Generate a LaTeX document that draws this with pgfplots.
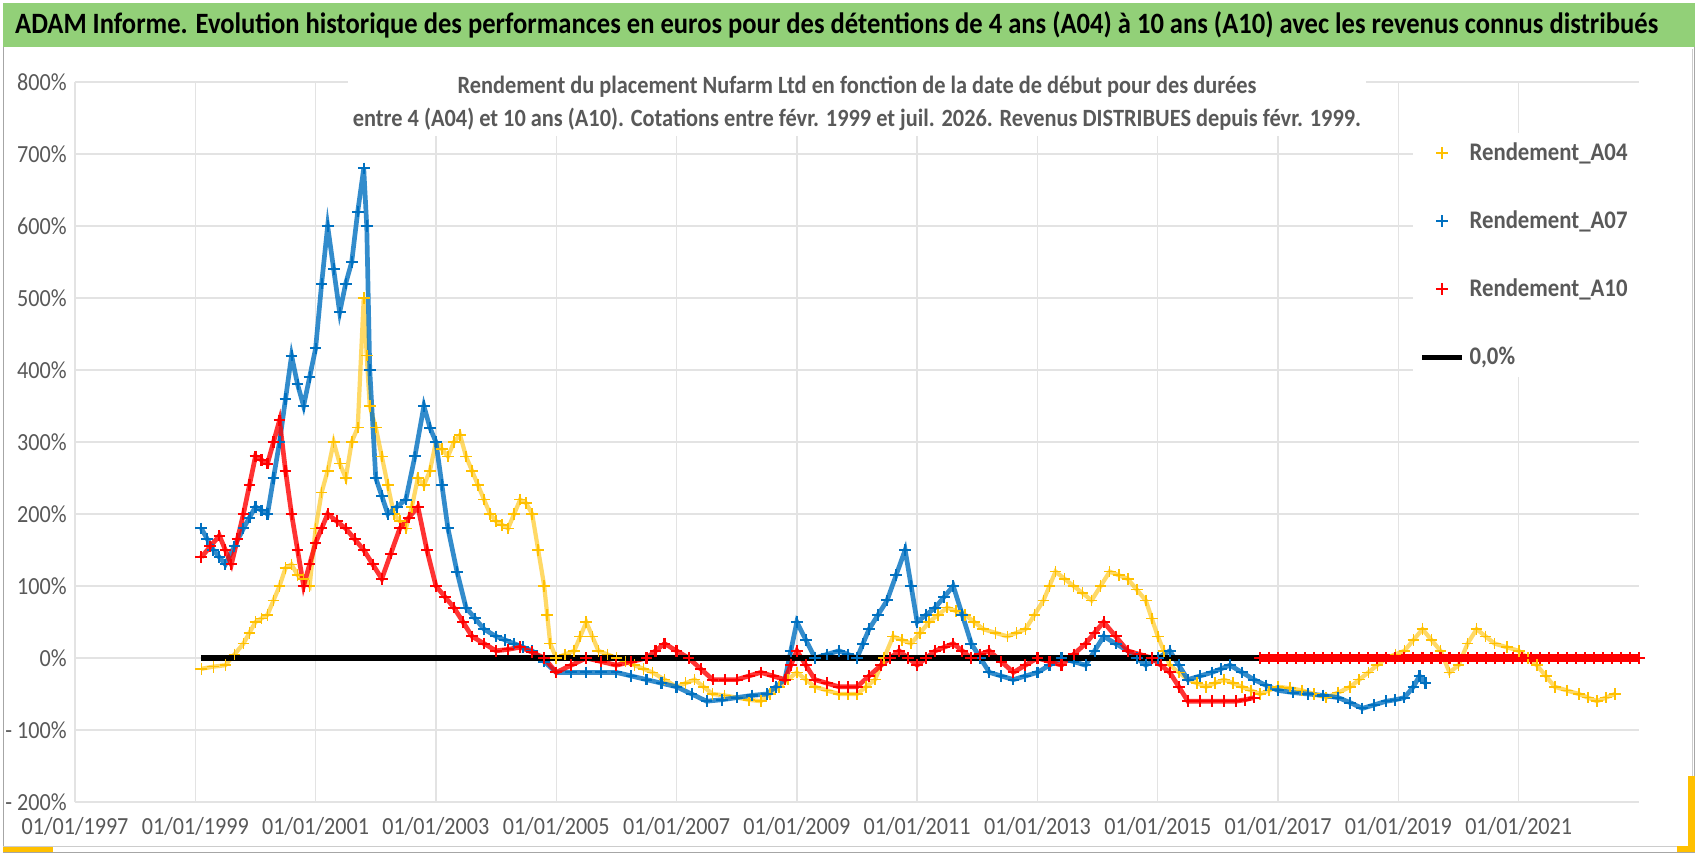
\documentclass[border=0pt]{standalone}
\usepackage{pgfplots}
\pgfplotsset{compat=1.18}
\usepackage{fontspec}
\setmainfont{Carlito}[FakeStretch=0.9]
\definecolor{cA}{RGB}{255,192,0}
\definecolor{cB}{RGB}{0,112,192}
\definecolor{cC}{RGB}{255,0,0}
\definecolor{ban}{RGB}{146,208,120}
\definecolor{txt}{RGB}{89,89,89}
\begin{document}
\begin{tikzpicture}
\useasboundingbox (0,0) rectangle (25.47,12.84);
\fill[white] (0,0) rectangle (25.47,12.84);
\draw[gray!70, line width=0.4pt] (0.05,0.05) rectangle (25.42,12.79);
\fill[ban] (0.05,12.14) rectangle (25.42,12.79);
\node[font=\bfseries\fontsize{12.6}{14}\selectfont, text=black] at (12.55,12.47) {ADAM Informe. Evolution historique des performances en euros pour des détentions de 4 ans (A04) à 10 ans (A10) avec les revenus connus distribués};
\draw[gray!40] (25.38,0.15) -- (25.38,12.1);
\draw[gray!40] (0.05,0.15) -- (25.38,0.15);
\fill[cA] (0.05,0.06) rectangle (0.8,0.14);
\fill[cA] (25.15,0.06) rectangle (25.42,0.15);
\fill[cA] (25.32,0.06) rectangle (25.42,1.2);
\begin{axis}[
  at={(1.125cm,0.81cm)}, anchor=south west, scale only axis,
  width=23.46cm, height=10.8cm,
  xmin=1997, xmax=2023, ymin=-200, ymax=800,
  xtick={1997,1999,...,2021},
  xticklabels={01/01/1997,01/01/1999,01/01/2001,01/01/2003,01/01/2005,01/01/2007,01/01/2009,01/01/2011,01/01/2013,01/01/2015,01/01/2017,01/01/2019,01/01/2021},
  ytick={-200,-100,...,800},
  yticklabels={- 200\%,- 100\%,0\%,100\%,200\%,300\%,400\%,500\%,600\%,700\%,800\%},
  grid=major, grid style={gray!22, line width=0.6pt},
  axis line style={draw=none}, major tick length=0pt,
  tick label style={font=\fontsize{10.5}{12}\selectfont, text=txt},
  xticklabel style={yshift=-3pt},
  legend style={at={(0.855,0.93)}, anchor=north west, draw=none, fill=white,
    font=\bfseries\fontsize{10.8}{13}\selectfont, text=txt, row sep=16pt},
  legend cell align=left,
  clip=false,
]
\addplot[cA, forget plot, no marks, line width=1.8pt, opacity=0.6] coordinates {
(1999.1,-15)(1999.3,-12)(1999.5,-10)(1999.65,5)(1999.8,20)(1999.9,35)(2000.0,50)(2000.1,55)(2000.2,60)(2000.3,80)(2000.4,100)(2000.5,125)(2000.6,130)(2000.7,115)(2000.8,110)(2000.9,100)(2001.0,180)(2001.1,230)(2001.2,260)(2001.3,300)(2001.4,270)(2001.5,250)(2001.6,300)(2001.7,320)(2001.8,500)(2001.85,420)(2001.9,350)(2002.0,320)(2002.1,280)(2002.2,240)(2002.3,200)(2002.4,190)(2002.5,180)(2002.6,210)(2002.7,250)(2002.8,240)(2002.9,260)(2003.0,300)(2003.1,290)(2003.2,280)(2003.3,300)(2003.4,310)(2003.5,280)(2003.6,260)(2003.7,240)(2003.8,220)(2003.9,200)(2004.0,190)(2004.1,185)(2004.2,180)(2004.3,200)(2004.4,220)(2004.5,215)(2004.6,200)(2004.7,150)(2004.8,100)(2004.85,60)(2004.9,20)(2005.0,0)(2005.15,5)(2005.3,10)(2005.4,30)(2005.5,50)(2005.6,30)(2005.7,10)(2005.85,5)(2006.0,0)(2006.15,-5)(2006.3,-10)(2006.45,-15)(2006.6,-20)(2006.8,-30)(2007.0,-40)(2007.15,-35)(2007.3,-30)(2007.45,-40)(2007.6,-50)(2007.8,-52)(2008.0,-55)(2008.2,-58)(2008.4,-60)(2008.55,-50)(2008.7,-40)(2008.85,-30)(2009.0,-20)(2009.15,-30)(2009.3,-40)(2009.5,-45)(2009.7,-50)(2009.85,-50)(2010.0,-50)(2010.15,-40)(2010.3,-30)(2010.45,0)(2010.6,30)(2010.75,25)(2010.9,20)(2011.05,35)(2011.2,50)(2011.35,60)(2011.5,70)(2011.65,65)(2011.8,60)(2011.95,50)(2012.1,40)(2012.3,35)(2012.5,30)(2012.65,35)(2012.8,40)(2012.95,60)(2013.1,80)(2013.2,100)(2013.3,120)(2013.45,110)(2013.6,100)(2013.75,90)(2013.9,80)(2014.05,100)(2014.2,120)(2014.35,115)(2014.5,110)(2014.65,95)(2014.8,80)(2014.9,55)(2015.0,30)(2015.1,10)(2015.2,-10)(2015.35,-20)(2015.5,-30)(2015.65,-35)(2015.8,-40)(2015.95,-35)(2016.1,-30)(2016.25,-35)(2016.4,-40)(2016.55,-45)(2016.7,-50)(2016.85,-45)(2017.0,-40)(2017.2,-42)(2017.4,-45)(2017.6,-50)(2017.8,-55)(2018.0,-48)(2018.2,-40)(2018.35,-30)(2018.5,-20)(2018.65,-10)(2018.8,0)(2018.95,5)(2019.1,10)(2019.25,25)(2019.4,40)(2019.55,25)(2019.7,10)(2019.85,-20)(2020.0,-10)(2020.15,20)(2020.3,40)(2020.45,30)(2020.6,20)(2020.8,15)(2021.0,10)(2021.15,0)(2021.3,-10)(2021.45,-25)(2021.6,-40)(2021.8,-45)(2022.0,-50)(2022.15,-55)(2022.3,-60)(2022.45,-55)(2022.6,-50)};
\addplot[only marks, mark=+, mark size=2.5pt, cA, line width=0.7pt] coordinates {
(1999.1,-15)(1999.3,-12)(1999.5,-10)(1999.65,5)(1999.8,20)(1999.9,35)(2000.0,50)(2000.1,55)(2000.2,60)(2000.3,80)(2000.4,100)(2000.5,125)(2000.6,130)(2000.7,115)(2000.8,110)(2000.9,100)(2001.0,180)(2001.1,230)(2001.2,260)(2001.3,300)(2001.4,270)(2001.5,250)(2001.6,300)(2001.7,320)(2001.8,500)(2001.85,420)(2001.9,350)(2002.0,320)(2002.1,280)(2002.2,240)(2002.3,200)(2002.4,190)(2002.5,180)(2002.6,210)(2002.7,250)(2002.8,240)(2002.9,260)(2003.0,300)(2003.1,290)(2003.2,280)(2003.3,300)(2003.4,310)(2003.5,280)(2003.6,260)(2003.7,240)(2003.8,220)(2003.9,200)(2004.0,190)(2004.1,185)(2004.2,180)(2004.3,200)(2004.4,220)(2004.5,215)(2004.6,200)(2004.7,150)(2004.8,100)(2004.85,60)(2004.9,20)(2005.0,0)(2005.15,5)(2005.3,10)(2005.4,30)(2005.5,50)(2005.6,30)(2005.7,10)(2005.85,5)(2006.0,0)(2006.15,-5)(2006.3,-10)(2006.45,-15)(2006.6,-20)(2006.8,-30)(2007.0,-40)(2007.15,-35)(2007.3,-30)(2007.45,-40)(2007.6,-50)(2007.8,-52)(2008.0,-55)(2008.2,-58)(2008.4,-60)(2008.55,-50)(2008.7,-40)(2008.85,-30)(2009.0,-20)(2009.15,-30)(2009.3,-40)(2009.5,-45)(2009.7,-50)(2009.85,-50)(2010.0,-50)(2010.15,-40)(2010.3,-30)(2010.45,0)(2010.6,30)(2010.75,25)(2010.9,20)(2011.05,35)(2011.2,50)(2011.35,60)(2011.5,70)(2011.65,65)(2011.8,60)(2011.95,50)(2012.1,40)(2012.3,35)(2012.5,30)(2012.65,35)(2012.8,40)(2012.95,60)(2013.1,80)(2013.2,100)(2013.3,120)(2013.45,110)(2013.6,100)(2013.75,90)(2013.9,80)(2014.05,100)(2014.2,120)(2014.35,115)(2014.5,110)(2014.65,95)(2014.8,80)(2014.9,55)(2015.0,30)(2015.1,10)(2015.2,-10)(2015.35,-20)(2015.5,-30)(2015.65,-35)(2015.8,-40)(2015.95,-35)(2016.1,-30)(2016.25,-35)(2016.4,-40)(2016.55,-45)(2016.7,-50)(2016.85,-45)(2017.0,-40)(2017.2,-42)(2017.4,-45)(2017.6,-50)(2017.8,-55)(2018.0,-48)(2018.2,-40)(2018.35,-30)(2018.5,-20)(2018.65,-10)(2018.8,0)(2018.95,5)(2019.1,10)(2019.25,25)(2019.4,40)(2019.55,25)(2019.7,10)(2019.85,-20)(2020.0,-10)(2020.15,20)(2020.3,40)(2020.45,30)(2020.6,20)(2020.8,15)(2021.0,10)(2021.15,0)(2021.3,-10)(2021.45,-25)(2021.6,-40)(2021.8,-45)(2022.0,-50)(2022.15,-55)(2022.3,-60)(2022.45,-55)(2022.6,-50)};
\addlegendentry{Rendement\_A04}
\addplot[cB, forget plot, no marks, line width=2pt, opacity=0.8] coordinates {
(1999.1,180)(1999.2,165)(1999.3,150)(1999.4,140)(1999.5,130)(1999.65,155)(1999.8,180)(1999.9,195)(2000.0,210)(2000.1,205)(2000.2,200)(2000.3,250)(2000.4,300)(2000.5,360)(2000.6,420)(2000.7,380)(2000.8,350)(2000.9,390)(2001.0,430)(2001.1,520)(2001.2,600)(2001.3,540)(2001.4,480)(2001.5,520)(2001.6,550)(2001.7,620)(2001.8,680)(2001.85,600)(2001.9,400)(2002.0,250)(2002.1,225)(2002.2,200)(2002.35,210)(2002.5,220)(2002.65,280)(2002.8,350)(2002.9,320)(2003.0,300)(2003.1,240)(2003.2,180)(2003.35,120)(2003.5,70)(2003.65,55)(2003.8,40)(2004.0,30)(2004.15,25)(2004.3,20)(2004.45,15)(2004.6,10)(2004.8,-5)(2005.0,-20)(2005.25,-20)(2005.5,-20)(2005.75,-20)(2006.0,-20)(2006.25,-25)(2006.5,-30)(2006.75,-35)(2007.0,-40)(2007.25,-50)(2007.5,-60)(2007.75,-58)(2008.0,-55)(2008.25,-52)(2008.5,-50)(2008.65,-40)(2008.8,-30)(2008.9,10)(2009.0,50)(2009.15,25)(2009.3,0)(2009.5,5)(2009.7,10)(2009.85,5)(2010.0,0)(2010.1,20)(2010.2,40)(2010.35,60)(2010.5,80)(2010.65,115)(2010.8,150)(2010.9,100)(2011.0,50)(2011.15,60)(2011.3,70)(2011.45,85)(2011.6,100)(2011.75,60)(2011.9,20)(2012.05,0)(2012.2,-20)(2012.4,-25)(2012.6,-30)(2012.8,-25)(2013.0,-20)(2013.2,-10)(2013.4,0)(2013.6,-5)(2013.8,-10)(2013.95,10)(2014.1,30)(2014.3,20)(2014.5,10)(2014.65,0)(2014.8,-10)(2015.0,0)(2015.2,10)(2015.35,-10)(2015.5,-30)(2015.7,-25)(2015.9,-20)(2016.05,-15)(2016.2,-10)(2016.4,-20)(2016.6,-30)(2016.8,-38)(2017.0,-45)(2017.25,-48)(2017.5,-50)(2017.75,-52)(2018.0,-55)(2018.2,-62)(2018.4,-70)(2018.6,-65)(2018.8,-60)(2018.95,-58)(2019.1,-55)(2019.25,-40)(2019.35,-25)(2019.45,-35)};
\addplot[only marks, mark=+, mark size=2.5pt, cB, line width=0.9pt] coordinates {
(1999.1,180)(1999.2,165)(1999.3,150)(1999.4,140)(1999.5,130)(1999.65,155)(1999.8,180)(1999.9,195)(2000.0,210)(2000.1,205)(2000.2,200)(2000.3,250)(2000.4,300)(2000.5,360)(2000.6,420)(2000.7,380)(2000.8,350)(2000.9,390)(2001.0,430)(2001.1,520)(2001.2,600)(2001.3,540)(2001.4,480)(2001.5,520)(2001.6,550)(2001.7,620)(2001.8,680)(2001.85,600)(2001.9,400)(2002.0,250)(2002.1,225)(2002.2,200)(2002.35,210)(2002.5,220)(2002.65,280)(2002.8,350)(2002.9,320)(2003.0,300)(2003.1,240)(2003.2,180)(2003.35,120)(2003.5,70)(2003.65,55)(2003.8,40)(2004.0,30)(2004.15,25)(2004.3,20)(2004.45,15)(2004.6,10)(2004.8,-5)(2005.0,-20)(2005.25,-20)(2005.5,-20)(2005.75,-20)(2006.0,-20)(2006.25,-25)(2006.5,-30)(2006.75,-35)(2007.0,-40)(2007.25,-50)(2007.5,-60)(2007.75,-58)(2008.0,-55)(2008.25,-52)(2008.5,-50)(2008.65,-40)(2008.8,-30)(2008.9,10)(2009.0,50)(2009.15,25)(2009.3,0)(2009.5,5)(2009.7,10)(2009.85,5)(2010.0,0)(2010.1,20)(2010.2,40)(2010.35,60)(2010.5,80)(2010.65,115)(2010.8,150)(2010.9,100)(2011.0,50)(2011.15,60)(2011.3,70)(2011.45,85)(2011.6,100)(2011.75,60)(2011.9,20)(2012.05,0)(2012.2,-20)(2012.4,-25)(2012.6,-30)(2012.8,-25)(2013.0,-20)(2013.2,-10)(2013.4,0)(2013.6,-5)(2013.8,-10)(2013.95,10)(2014.1,30)(2014.3,20)(2014.5,10)(2014.65,0)(2014.8,-10)(2015.0,0)(2015.2,10)(2015.35,-10)(2015.5,-30)(2015.7,-25)(2015.9,-20)(2016.05,-15)(2016.2,-10)(2016.4,-20)(2016.6,-30)(2016.8,-38)(2017.0,-45)(2017.25,-48)(2017.5,-50)(2017.75,-52)(2018.0,-55)(2018.2,-62)(2018.4,-70)(2018.6,-65)(2018.8,-60)(2018.95,-58)(2019.1,-55)(2019.25,-40)(2019.35,-25)(2019.45,-35)};
\addlegendentry{Rendement\_A07}
\addplot[cC, forget plot, no marks, line width=2pt, opacity=0.8] coordinates {
(1999.1,140)(1999.25,155)(1999.4,170)(1999.5,150)(1999.6,130)(1999.7,165)(1999.8,200)(1999.9,240)(2000.0,280)(2000.1,275)(2000.2,270)(2000.3,300)(2000.4,330)(2000.5,260)(2000.6,200)(2000.7,150)(2000.8,100)(2000.9,130)(2001.0,160)(2001.1,180)(2001.2,200)(2001.35,190)(2001.5,180)(2001.65,165)(2001.8,150)(2001.95,130)(2002.1,110)(2002.25,145)(2002.4,180)(2002.55,195)(2002.7,210)(2002.85,150)(2003.0,100)(2003.15,85)(2003.3,70)(2003.45,50)(2003.6,30)(2003.8,20)(2004.0,10)(2004.2,12)(2004.4,15)(2004.6,8)(2004.8,0)(2005.0,-20)(2005.25,-10)(2005.5,0)(2005.75,-5)(2006.0,-10)(2006.25,-5)(2006.5,0)(2006.65,10)(2006.8,20)(2007.0,10)(2007.2,0)(2007.4,-15)(2007.6,-30)(2007.8,-30)(2008.0,-30)(2008.2,-25)(2008.4,-20)(2008.6,-25)(2008.8,-30)(2008.9,-10)(2009.0,10)(2009.15,-10)(2009.3,-30)(2009.5,-35)(2009.7,-40)(2009.85,-40)(2010.0,-40)(2010.2,-25)(2010.4,-10)(2010.55,0)(2010.7,10)(2010.85,0)(2011.0,-10)(2011.15,0)(2011.3,10)(2011.45,15)(2011.6,20)(2011.75,10)(2011.9,0)(2012.05,5)(2012.2,10)(2012.4,-5)(2012.6,-20)(2012.8,-10)(2013.0,0)(2013.2,-5)(2013.4,-10)(2013.6,5)(2013.8,20)(2013.95,35)(2014.1,50)(2014.3,30)(2014.5,10)(2014.7,5)(2014.9,0)(2015.05,-10)(2015.2,-20)(2015.35,-40)(2015.5,-60)(2015.7,-60)(2015.9,-60)(2016.1,-60)(2016.3,-60)(2016.45,-58)(2016.6,-55)};
\addplot[black, line width=2.2pt, no marks, forget plot] coordinates {(1999.1,0)(2016.7,0)};
\addplot[cC, forget plot, no marks, line width=3pt] coordinates {(2016.7,0)(2023.0,0)};
\addplot[only marks, mark=+, mark size=2.5pt, cC, line width=0.9pt] coordinates {
(1999.1,140)(1999.25,155)(1999.4,170)(1999.5,150)(1999.6,130)(1999.7,165)(1999.8,200)(1999.9,240)(2000.0,280)(2000.1,275)(2000.2,270)(2000.3,300)(2000.4,330)(2000.5,260)(2000.6,200)(2000.7,150)(2000.8,100)(2000.9,130)(2001.0,160)(2001.1,180)(2001.2,200)(2001.35,190)(2001.5,180)(2001.65,165)(2001.8,150)(2001.95,130)(2002.1,110)(2002.25,145)(2002.4,180)(2002.55,195)(2002.7,210)(2002.85,150)(2003.0,100)(2003.15,85)(2003.3,70)(2003.45,50)(2003.6,30)(2003.8,20)(2004.0,10)(2004.2,12)(2004.4,15)(2004.6,8)(2004.8,0)(2005.0,-20)(2005.25,-10)(2005.5,0)(2005.75,-5)(2006.0,-10)(2006.25,-5)(2006.5,0)(2006.65,10)(2006.8,20)(2007.0,10)(2007.2,0)(2007.4,-15)(2007.6,-30)(2007.8,-30)(2008.0,-30)(2008.2,-25)(2008.4,-20)(2008.6,-25)(2008.8,-30)(2008.9,-10)(2009.0,10)(2009.15,-10)(2009.3,-30)(2009.5,-35)(2009.7,-40)(2009.85,-40)(2010.0,-40)(2010.2,-25)(2010.4,-10)(2010.55,0)(2010.7,10)(2010.85,0)(2011.0,-10)(2011.15,0)(2011.3,10)(2011.45,15)(2011.6,20)(2011.75,10)(2011.9,0)(2012.05,5)(2012.2,10)(2012.4,-5)(2012.6,-20)(2012.8,-10)(2013.0,0)(2013.2,-5)(2013.4,-10)(2013.6,5)(2013.8,20)(2013.95,35)(2014.1,50)(2014.3,30)(2014.5,10)(2014.7,5)(2014.9,0)(2015.05,-10)(2015.2,-20)(2015.35,-40)(2015.5,-60)(2015.7,-60)(2015.9,-60)(2016.1,-60)(2016.3,-60)(2016.45,-58)(2016.6,-55)
(2016.7,0)(2016.85,0)(2017.0,0)(2017.15,0)(2017.3,0)(2017.45,0)(2017.6,0)(2017.75,0)(2017.9,0)(2018.05,0)(2018.2,0)(2018.35,0)(2018.5,0)(2018.65,0)(2018.8,0)(2018.95,0)(2019.1,0)(2019.25,0)(2019.4,0)(2019.55,0)(2019.7,0)(2019.85,0)(2020.0,0)(2020.15,0)(2020.3,0)(2020.45,0)(2020.6,0)(2020.75,0)(2020.9,0)(2021.05,0)(2021.2,0)(2021.35,0)(2021.5,0)(2021.65,0)(2021.8,0)(2021.95,0)(2022.1,0)(2022.25,0)(2022.4,0)(2022.55,0)(2022.7,0)(2022.85,0)(2023.0,0)};
\addlegendentry{Rendement\_A10}
\addlegendimage{black, line width=2.2pt}
\addlegendentry{0,0\%}
\node[fill=white, font=\bfseries\fontsize{10.6}{14}\selectfont, text=txt, align=center, anchor=north, inner sep=2pt] at (rel axis cs:0.5,1.015) {Rendement du placement Nufarm Ltd en fonction de la date de début pour des durées\\entre 4 (A04) et 10 ans (A10). Cotations entre févr. 1999 et juil. 2026. Revenus DISTRIBUES depuis févr. 1999.};
\end{axis}
\end{tikzpicture}
\end{document}
